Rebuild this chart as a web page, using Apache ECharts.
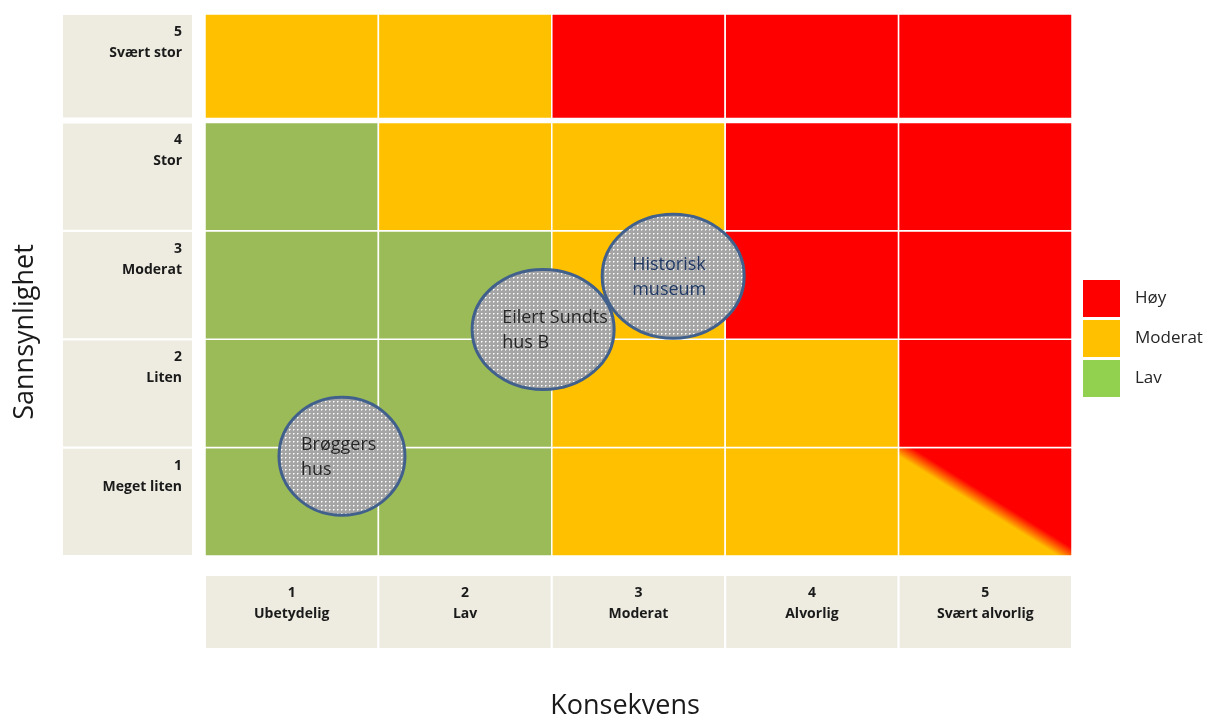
<!DOCTYPE html>
<html><head><meta charset="utf-8">
<script src="https://cdn.jsdelivr.net/npm/echarts@6/dist/echarts.min.js"></script>
<style>html,body{margin:0;padding:0;background:#fff}#c{width:1212px;height:718px}</style>
</head><body><div id="c"></div>
<script>
// ---------- data ----------
const consequenceNumbers = ['1', '2', '3', '4', '5'];
const consequenceLabels = ['Ubetydelig', 'Lav', 'Moderat', 'Alvorlig', 'Svært alvorlig'];
const probabilityNumbers = ['1', '2', '3', '4', '5'];
const probabilityLabels = ['Meget liten', 'Liten', 'Moderat', 'Stor', 'Svært stor'];
const riskLevels = ['Høy', 'Moderat', 'Lav'];
// rows: probability 1 (bottom) .. 5 (top); columns: consequence 1..5
const riskMatrix = [
  ['Lav', 'Lav', 'Moderat', 'Moderat', 'Moderat/Høy'],
  ['Lav', 'Lav', 'Moderat', 'Moderat', 'Høy'],
  ['Lav', 'Lav', 'Moderat', 'Høy', 'Høy'],
  ['Lav', 'Moderat', 'Moderat', 'Høy', 'Høy'],
  ['Moderat', 'Moderat', 'Høy', 'Høy', 'Høy']
];
const objectNames = ['Brøggers\nhus', 'Eilert Sundts\nhus B', 'Historisk\nmuseum'];
const objectConsequence = [1.29, 2.45, 3.20];
const objectProbability = [1.42, 2.59, 3.08];

// ---------- styles ----------
const levelColors = { 'Høy': '#FF0000', 'Moderat': '#FFC000', 'Lav': '#9BBB59' };
const legendColors = { 'Høy': '#FF0000', 'Moderat': '#FFC000', 'Lav': '#92D050' };
const ellipseStyle = [
  { rx: 63, ry: 59, color: '#262626' },
  { rx: 71, ry: 60, color: '#262626' },
  { rx: 71, ry: 62, color: '#1F3864' }
];
const PANEL = '#EEECE1';
const TOP_BAND_GAP = 4;
const LABEL_FONT = 'bold 14px "Open Sans", sans-serif';
const FAMILY = '"Open Sans", "Noto Sans", sans-serif';

// dotted pattern for the bubbles
const pat = document.createElement('canvas');
pat.width = 4; pat.height = 4;
const g = pat.getContext('2d');
g.fillStyle = '#A5A5A5'; g.fillRect(0, 0, 4, 4);
g.fillStyle = '#D8D8D8'; g.fillRect(2, 1, 1, 1); g.fillRect(1, 2, 1, 1);
g.fillStyle = '#FFFFFF'; g.fillRect(1, 1, 1, 1);

// ---------- build series data ----------
const cellData = [], cellLevels = [];
riskMatrix.forEach((row, r) => row.forEach((lvl, c) => { cellData.push([c + 1, r + 1]); cellLevels.push(lvl); }));
const objectData = objectNames.map((n, i) => [objectConsequence[i], objectProbability[i]]);
const rowData = probabilityNumbers.map((n, i) => [0.5, i + 1]);
const colData = consequenceNumbers.map((n, i) => [i + 1, 0.5]);

function renderCell(params, api) {
  const c = api.value(0), r = api.value(1);
  const lvl = cellLevels[params.dataIndex];
  const tl = api.coord([c - 0.5, r + 0.5]);
  const br = api.coord([c + 0.5, r - 0.5]);
  const x = tl[0], y = tl[1], w = br[0] - tl[0];
  let h = br[1] - tl[1];
  if (r === 5) h -= TOP_BAND_GAP;
  let fill;
  if (lvl.indexOf('/') >= 0) {
    const parts = lvl.split('/');
    const cx = x + w / 2, cy = y + h / 2, n = Math.hypot(w, h);
    const ux = h / n, uy = -w / n, s = 7;
    fill = new echarts.graphic.LinearGradient(cx - ux * s, cy - uy * s, cx + ux * s, cy + uy * s,
      [{ offset: 0, color: levelColors[parts[0]] }, { offset: 1, color: levelColors[parts[1]] }], true);
  } else fill = levelColors[lvl];
  return { type: 'rect', shape: { x, y, width: w, height: h }, style: { fill, stroke: '#fff', lineWidth: 1.5 } };
}

function renderObject(params, api) {
  const p = api.coord([api.value(0), api.value(1)]);
  const st = ellipseStyle[params.dataIndex];
  return {
    type: 'group', children: [
      { type: 'ellipse', shape: { cx: p[0], cy: p[1], rx: st.rx, ry: st.ry },
        style: { fill: { image: pat, repeat: 'repeat' }, stroke: '#41618C', lineWidth: 3 } },
      { type: 'text', style: { text: objectNames[params.dataIndex], x: p[0] - 41, y: p[1] + 1,
        align: 'left', verticalAlign: 'middle', fill: st.color, fontSize: 18, lineHeight: 25, fontFamily: FAMILY } }
    ]
  };
}

function renderRowLabel(params, api) {
  const r = api.value(1);
  const cs = params.coordSys;
  const top = api.coord([0, r + 0.5])[1], bottom = api.coord([0, r - 0.5])[1];
  let h = bottom - top; if (r === 5) h -= TOP_BAND_GAP;
  const tx = cs.x + cs.width - 11;
  return {
    type: 'group', children: [
      { type: 'rect', shape: { x: cs.x, y: top, width: cs.width, height: h }, style: { fill: PANEL, stroke: '#fff', lineWidth: 2 } },
      { type: 'text', style: { text: probabilityNumbers[r - 1], x: tx, y: top + 18, align: 'right', verticalAlign: 'middle', font: LABEL_FONT, fill: '#1a1a1a' } },
      { type: 'text', style: { text: probabilityLabels[r - 1], x: tx, y: top + 39, align: 'right', verticalAlign: 'middle', font: LABEL_FONT, fill: '#1a1a1a' } }
    ]
  };
}

function renderColLabel(params, api) {
  const c = api.value(0);
  const cs = params.coordSys;
  const left = api.coord([c - 0.5, 0])[0], right = api.coord([c + 0.5, 0])[0];
  const cx = (left + right) / 2;
  return {
    type: 'group', children: [
      { type: 'rect', shape: { x: left, y: cs.y, width: right - left, height: cs.height }, style: { fill: PANEL, stroke: '#fff', lineWidth: 2 } },
      { type: 'text', style: { text: consequenceNumbers[c - 1], x: cx, y: cs.y + 18, align: 'center', verticalAlign: 'middle', font: LABEL_FONT, fill: '#1a1a1a' } },
      { type: 'text', style: { text: consequenceLabels[c - 1], x: cx, y: cs.y + 39, align: 'center', verticalAlign: 'middle', font: LABEL_FONT, fill: '#1a1a1a' } }
    ]
  };
}

const hiddenAxis = { axisLine: { show: false }, axisTick: { show: false }, axisLabel: { show: false }, splitLine: { show: false } };
const titleStyle = { fontSize: 27, fontFamily: FAMILY, color: '#1a1a1a' };

const option = {
  animation: false,
  backgroundColor: '#ffffff',
  grid: [
    { left: 205, top: 14, width: 867, height: 542, outerBoundsMode: 'none' },   // matrix
    { left: 62, top: 14, width: 131, height: 542, outerBoundsMode: 'none' },    // row labels
    { left: 205, top: 575, width: 867, height: 74, outerBoundsMode: 'none' },   // column labels
    { left: 62, top: 14, width: 10, height: 636, outerBoundsMode: 'none' }      // y title holder
  ],
  xAxis: [
    Object.assign({ type: 'value', gridIndex: 0, min: 0.5, max: 5.5 }, hiddenAxis),
    Object.assign({ type: 'value', gridIndex: 1, min: 0, max: 1 }, hiddenAxis),
    Object.assign({ type: 'value', gridIndex: 2, min: 0.5, max: 5.5, name: 'Konsekvens', nameLocation: 'middle', nameGap: 44,
      nameTextStyle: Object.assign({ padding: [0, 27, 0, 0] }, titleStyle) }, hiddenAxis),
    Object.assign({ type: 'value', gridIndex: 3, min: 0, max: 1 }, hiddenAxis)
  ],
  yAxis: [
    Object.assign({ type: 'value', gridIndex: 0, min: 0.5, max: 5.5 }, hiddenAxis),
    Object.assign({ type: 'value', gridIndex: 1, min: 0.5, max: 5.5 }, hiddenAxis),
    Object.assign({ type: 'value', gridIndex: 2, min: 0, max: 1 }, hiddenAxis),
    Object.assign({ type: 'value', gridIndex: 3, min: 0, max: 1, name: 'Sannsynlighet', nameLocation: 'middle', nameRotate: 90, nameGap: 23,
      nameTextStyle: titleStyle }, hiddenAxis)
  ],
  legend: {
    orient: 'vertical', left: 1083, top: 280, padding: 0, itemWidth: 37, itemHeight: 37, itemGap: 3, icon: 'rect',
    selectedMode: false,
    data: riskLevels,
    textStyle: { fontSize: 17, fontFamily: FAMILY, color: '#262626', padding: [0, 0, 0, 10] }
  },
  series: [
    { type: 'custom', name: 'matrix', xAxisIndex: 0, yAxisIndex: 0, data: cellData, renderItem: renderCell, encode: { x: 0, y: 1 }, silent: true, z: 1 },
    { type: 'custom', name: 'objects', xAxisIndex: 0, yAxisIndex: 0, data: objectData, renderItem: renderObject, encode: { x: 0, y: 1 }, silent: true, z: 3 },
    { type: 'custom', name: 'rows', xAxisIndex: 1, yAxisIndex: 1, data: rowData, renderItem: renderRowLabel, encode: { x: 0, y: 1 }, silent: true },
    { type: 'custom', name: 'cols', xAxisIndex: 2, yAxisIndex: 2, data: colData, renderItem: renderColLabel, encode: { x: 0, y: 1 }, silent: true }
  ].concat(riskLevels.map(l => ({ type: 'scatter', name: l, xAxisIndex: 0, yAxisIndex: 0, data: [], itemStyle: { color: legendColors[l], opacity: 1 } })))
};

const chart = echarts.init(document.getElementById('c'), null, { renderer: 'canvas' });
chart.setOption(option);
</script>
</body></html>
